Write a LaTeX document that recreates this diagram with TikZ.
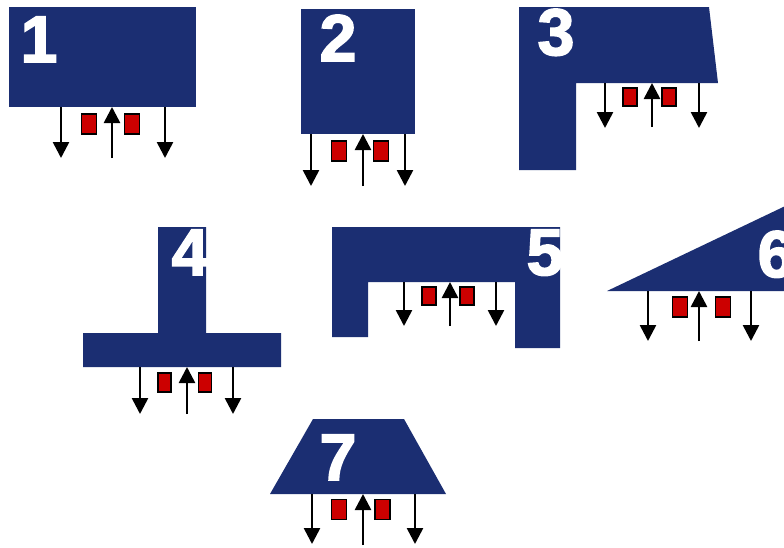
\documentclass[tikz,border=0pt]{standalone}
\usepackage{fontspec}
\setmainfont{Liberation Sans}
\newfontfamily\digitfont{Liberation Sans}[BoldFeatures={FakeBold=2.5}]
\usetikzlibrary{arrows.meta}

\definecolor{beamblue}{HTML}{1B2E72}
\definecolor{padred}{HTML}{CC0000}

\tikzset{
  beam/.style={fill=beamblue},
  digit/.style={text=white, font=\fontsize{66}{66}\digitfont\bfseries, inner sep=0pt, anchor=base},
  pad/.style={draw=black, line width=1.4pt, fill=padred, minimum width=15pt, minimum height=20pt, inner sep=0pt},
  force/.style={line width=2.6pt, -{Triangle[width=16pt,length=16pt]}},
}

\begin{document}
\begin{tikzpicture}[x=1pt, y=-1pt]
\useasboundingbox (0,0) rectangle (784,547);

% 1: rectangle
\fill[beam] (9,7) rectangle (196,107);
\node[digit] (n1) at (39,62) {1};
\draw[force] (61,107) -- (61,158);
\draw[force] (112,158) -- (112,107);
\draw[force] (165,107) -- (165,158);
\node[pad] (p1a) at (89,124) {};
\node[pad] (p1b) at (132,124) {};

% 2: tall rectangle
\fill[beam] (301,9) rectangle (415,134);
\node[digit] (n2) at (338,61) {2};
\draw[force] (311,134) -- (311,186);
\draw[force] (363,186) -- (363,134);
\draw[force] (405,134) -- (405,186);
\node[pad] (p2a) at (339,151) {};
\node[pad] (p2b) at (381,151) {};

% 3: L section with sloped end
\fill[beam] (519,7) -- (709,7) -- (718,83) -- (576,83) -- (576,170) -- (519,170) -- cycle;
\node[digit] (n3) at (556,55) {3};
\draw[force] (605,83) -- (605,128);
\draw[force] (652,127) -- (652,83);
\draw[force] (699,83) -- (699,128);
\node[pad, minimum width=14pt, minimum height=18pt] (p3a) at (630,97) {};
\node[pad, minimum width=14pt, minimum height=18pt] (p3b) at (669,97) {};

% 4: T section
\fill[beam] (158,227) rectangle (206,334) (83,333) rectangle (281,367);
\node[digit] (n4) at (190,275) {4};
\draw[force] (140,367) -- (140,414);
\draw[force] (187,414) -- (187,367);
\draw[force] (233,367) -- (233,414);
\node[pad, minimum width=13pt, minimum height=19pt] (p4a) at (164.5,382.5) {};
\node[pad, minimum width=13pt, minimum height=19pt] (p4b) at (205,382.5) {};

% 5: portal
\fill[beam] (332,227) -- (560,227) -- (560,348) -- (515,348) -- (515,282) -- (368,282) -- (368,337) -- (332,337) -- cycle;
\node[digit] (n5) at (545,275) {5};
\draw[force] (404,282) -- (404,326);
\draw[force] (450,326) -- (450,282);
\draw[force] (496,282) -- (496,326);
\node[pad, minimum width=14pt, minimum height=18pt] (p5a) at (429,296) {};
\node[pad, minimum width=14pt, minimum height=18pt] (p5b) at (467,296) {};

% 6: wedge
\fill[beam] (607,291) -- (800,199) -- (800,291) -- cycle;
\node[digit] (n6) at (776,277) {6};
\draw[force] (648,291) -- (648,341);
\draw[force] (699,341) -- (699,291);
\draw[force] (751,291) -- (751,341);
\node[pad] (p6a) at (680,307) {};
\node[pad] (p6b) at (723,307) {};

% 7: trapezoid
\fill[beam] (313,419) -- (404,419) -- (446,494) -- (270,494) -- cycle;
\node[digit] (n7) at (338,480) {7};
\draw[force] (312,494) -- (312,544);
\draw[force] (363,545) -- (363,494);
\draw[force] (415,494) -- (415,544);
\node[pad] (p7a) at (339,509.5) {};
\node[pad] (p7b) at (382.5,509.5) {};
\end{tikzpicture}
\end{document}
